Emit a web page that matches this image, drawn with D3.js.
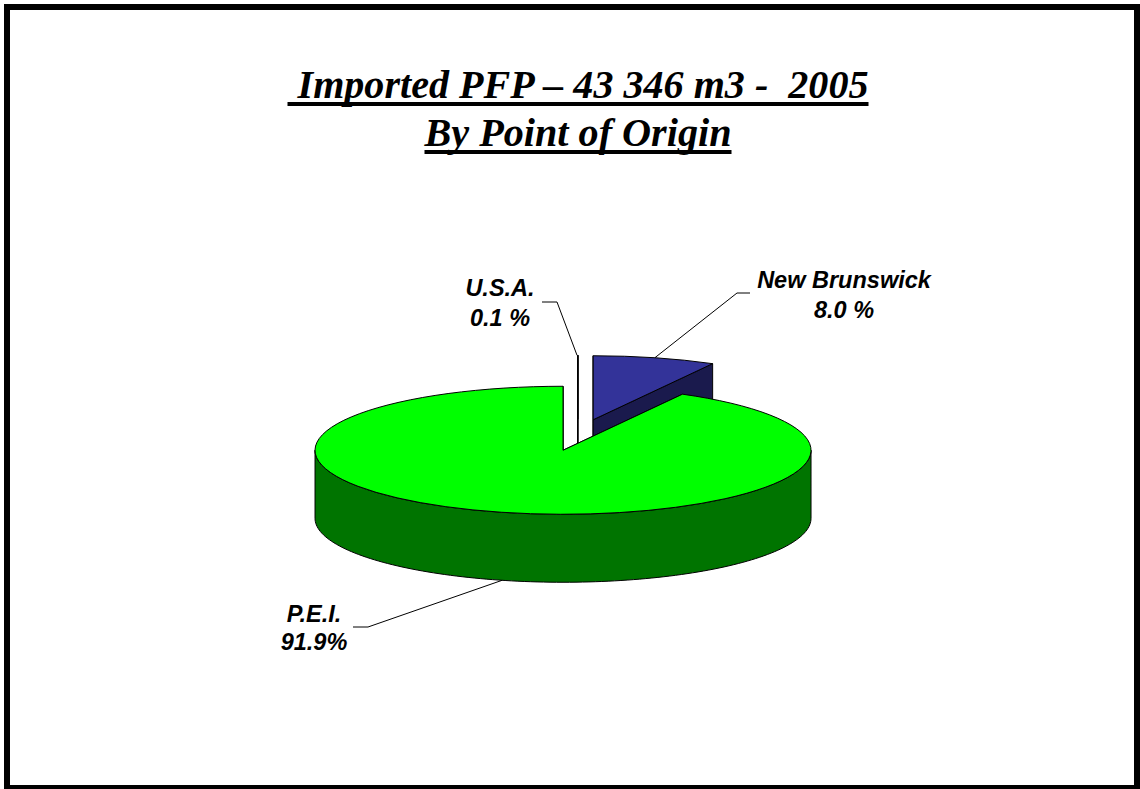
<!DOCTYPE html>
<html><head><meta charset="utf-8">
<script src="https://cdn.jsdelivr.net/npm/d3@7/dist/d3.min.js"></script>
<style>html,body{margin:0;padding:0;background:#fff;overflow:hidden}svg{display:block}</style>
</head><body><div id="c"></div>
<script>
const categories = ["New Brunswick", "P.E.I.", "U.S.A."];
const values = [8.0, 91.9, 0.1];
const valueLabels = ["8.0 %", "91.9%", "0.1 %"];
const topColors = ["#333399", "#00ff00", "#ffffff"];
const sideColors = ["#1a1a4d", "#007400", "#ffffff"];
const titleLines = ["\u00a0Imported PFP \u2013 43 346 m3 -\u00a0\u00a02005", "By Point of Origin"];

const W = 1140, H = 789;
const svg = d3.select("#c").append("svg").attr("width", W).attr("height", H);
svg.append("rect").attr("x", 7).attr("y", 7).attr("width", 1130).attr("height", 781)
  .attr("fill", "#fff").attr("stroke", "#000").attr("stroke-width", 6);

const titleWidths = [581, 307];
const titleY = [98, 146];
const titleX = 578;
svg.selectAll("text.title").data(titleLines).join("text").attr("class", "title")
  .attr("x", titleX).attr("y", (d, i) => titleY[i])
  .attr("text-anchor", "middle")
  .attr("font-family", "'Liberation Serif'").attr("font-weight", "bold").attr("font-style", "italic")
  .attr("font-size", 41)
  .attr("textLength", (d, i) => titleWidths[i]).attr("lengthAdjust", "spacingAndGlyphs")
  .text(d => d);
svg.selectAll("rect.underline").data(titleLines).join("rect").attr("class", "underline")
  .attr("x", (d, i) => titleX - titleWidths[i] / 2).attr("width", (d, i) => titleWidths[i])
  .attr("y", (d, i) => titleY[i] + 4).attr("height", 4).attr("fill", "#000");

const cx = 578, cy = 435, rx = 248, ry = 64, depth = 68, explode = 61;
const squash = ry / rx;
const pie = d3.pie().sort(null).startAngle(0).endAngle(2 * Math.PI).value(d => d);
// a slice thinner than one degree is drawn as a single edge at the top of the circle
const oneDeg = Math.PI / 180;
const snap = t => (2 * Math.PI - t < oneDeg ? 2 * Math.PI : t);
const arcs = pie(values).map((a, i) => {
  const mid = (a.startAngle + a.endAngle) / 2;
  return {...a, startAngle: snap(a.startAngle), endAngle: snap(a.endAngle), i, mid,
    ox: cx + explode * Math.sin(mid), oy: cy - explode * Math.cos(mid) * squash};
});
const arcGen = d3.arc().innerRadius(0).outerRadius(rx);
const line = d3.line();
const rim = (a, t, dy = 0) => [a.ox + rx * Math.sin(t), a.oy - ry * Math.cos(t) + dy];

function sidePath(a) {
  const s = Math.max(a.startAngle, Math.PI / 2), e = Math.min(a.endAngle, 3 * Math.PI / 2);
  if (e <= s) return null;
  const ts = d3.range(0, 121).map(k => s + (e - s) * k / 120);
  return line(ts.map(t => rim(a, t)).concat(ts.slice().reverse().map(t => rim(a, t, depth)))) + "Z";
}
function cutPath(a, t) {
  return line([[a.ox, a.oy], rim(a, t), rim(a, t, depth), [a.ox, a.oy + depth]]) + "Z";
}
function drawSlice(a) {
  const g = svg.append("g").attr("class", "slice");
  [a.startAngle, a.endAngle].forEach(t => {
    g.append("path").attr("d", cutPath(a, t)).attr("fill", sideColors[a.i])
      .attr("stroke", "#000").attr("stroke-width", 1).attr("stroke-linejoin", "round");
  });
  const sp = sidePath(a);
  if (sp) g.append("path").attr("d", sp).attr("fill", sideColors[a.i])
      .attr("stroke", "#000").attr("stroke-width", 1);
  g.append("path").attr("d", arcGen(a))
    .attr("transform", `translate(${a.ox},${a.oy}) scale(1,${squash})`)
    .attr("fill", topColors[a.i]).attr("stroke", "#000").attr("stroke-width", 1)
    .style("vector-effect", "non-scaling-stroke");
}
[arcs[2], arcs[0], arcs[1]].forEach(drawSlice);

const leaderFrom = [rim(arcs[0], arcs[0].mid), rim(arcs[1], arcs[1].mid, depth), rim(arcs[2], arcs[2].mid)];
const leaderVia = [[[737, 293], [750, 293]], [[368, 627], [353, 627]], [[557, 302], [542, 302]]];
leaderFrom.forEach((p, i) => {
  svg.append("path").attr("d", line([p, ...leaderVia[i]])).attr("fill", "none")
    .attr("stroke", "#000").attr("stroke-width", 1);
});
const labelPos = [[844, 288, 318], [314, 622, 650], [500, 295.5, 325.5]];
categories.forEach((c, i) => {
  const t = svg.append("text").attr("text-anchor", "middle")
    .attr("font-family", "'Liberation Sans'").attr("font-weight", "bold").attr("font-style", "italic")
    .attr("font-size", 23.5).attr("fill", "#000");
  t.append("tspan").attr("x", labelPos[i][0]).attr("y", labelPos[i][1]).text(c);
  t.append("tspan").attr("x", labelPos[i][0]).attr("y", labelPos[i][2]).text(valueLabels[i]);
});
</script></body></html>
